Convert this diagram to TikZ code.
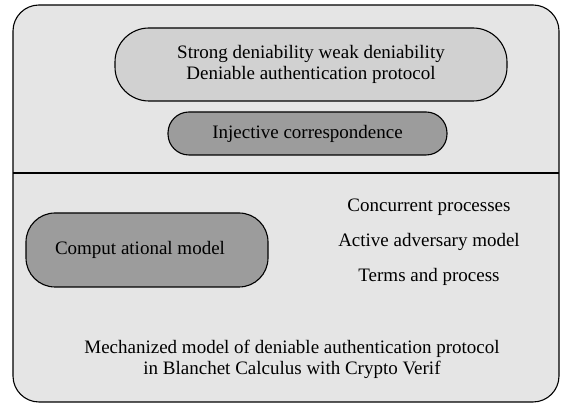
\documentclass[tikz,border=0pt]{standalone}
\usepackage{fontspec}
\setmainfont{Liberation Serif}

\begin{document}
\begin{tikzpicture}[x=1pt,y=1pt,
    font=\fontsize{19}{21}\selectfont,
    pill/.style={draw,line width=1.1pt,rounded corners=#1,inner sep=0pt,align=center},
    pill/.default=30pt]
                \useasboundingbox (0,0) rectangle (563,404);
                % frame and dividing line
                \node[draw,line width=1.1pt,rounded corners=26pt,fill=black!10,
                      minimum width=546pt,minimum height=397pt] (frame) at (286,200.5) {};
                \coordinate (divl) at (13,231);
                \coordinate (divr) at (559,231);
                \draw[line width=1.1pt] (divl) -- (divr);
                % upper part
                \node[pill=34pt,fill=black!18,minimum width=392pt,minimum height=73pt] (deny) at (311,339.5)
                    {Strong deniability weak deniability\\Deniable authentication protocol};
                \node[pill=21pt,fill=black!39,minimum width=279pt,minimum height=43pt] (inject) at (307.5,270.5)
                    {Injective correspondence};
                % lower part
                \node[pill=29pt,fill=black!39,minimum width=242pt,minimum height=74pt] (comp) at (147,154)
                    {\hspace*{-14pt}Comput ational model};
                \node (conc) at (429,197) {Concurrent processes};
                \node (adv) at (429,162) {Active adversary model};
                \node (terms) at (429,127) {Terms and process};
                \node[align=center] (mech) at (292,45)
                    {Mechanized model of deniable authentication protocol\\in Blanchet Calculus with Crypto Verif};
            \end{tikzpicture}
\end{document}
